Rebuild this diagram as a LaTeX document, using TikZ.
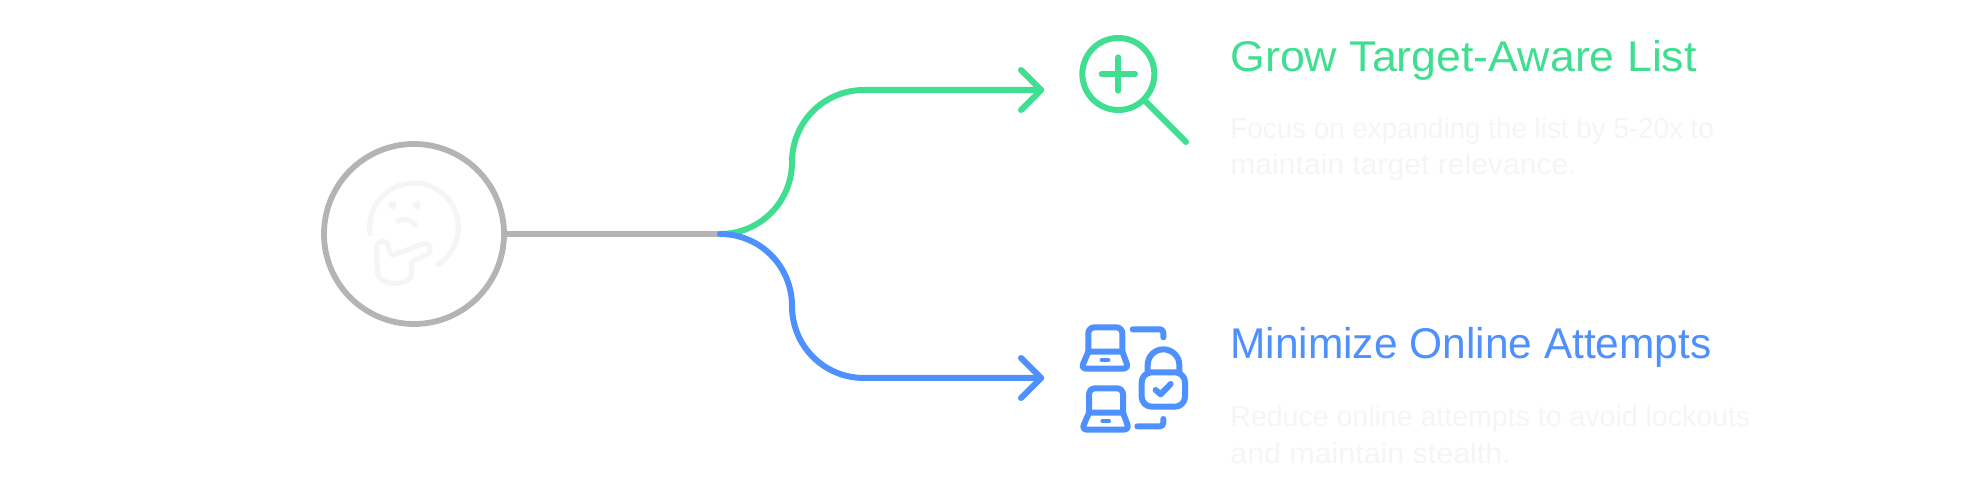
\documentclass[tikz,border=0pt]{standalone}
\usepackage{fontspec}
\setmainfont{Liberation Sans}
\definecolor{cgreen}{HTML}{40DE90}
\definecolor{cblue}{HTML}{4D90FE}
\definecolor{cgrey}{HTML}{B4B4B4}
\definecolor{cpale}{HTML}{F4F5F6}
\tikzset{
  px/.style={x=0.5pt,y=-0.5pt},
  conn/.style={line width=3pt,line cap=round,line join=round},
  icon/.style={line width=3pt,line cap=round,line join=round},
  faint/.style={line width=2.6pt,line cap=round,line join=round,draw=cpale},
  ttl/.style={anchor=base west,inner sep=0pt,font=\fontsize{21.5pt}{24pt}\selectfont},
  dsc/.style={anchor=base west,inner sep=0pt,text=cpale,font=\fontsize{14.4pt}{18pt}\selectfont},
  hub/.style={circle,draw=cgrey,line width=2.9pt,minimum size=90pt,inner sep=0pt},
  zoomA/.style={shift={(1000,20)},scale=0.33333},
  zoomB/.style={shift={(1000,310)},scale=0.33333},
  zoomC/.style={shift={(300,120)},scale=0.33333}
}
\newcommand{\laptopicon}[2]{%
  \draw[icon,draw=cblue,rounded corners=3pt,shift={(#1,#2)}] (265,125) -- (265,52) -- (367,52) -- (367,125);
  \draw[icon,draw=cblue,shift={(#1,#2)}] (265,125) -- (367,125) -- (380,160) .. controls (384,170) and (378,176) .. (368,176)
      -- (260,176) .. controls (250,176) and (245,170) .. (250,160) -- cycle;
  \draw[line width=2.4pt,line cap=round,draw=cblue,shift={(#1,#2)}] (306,150) -- (324,150);
}
\begin{document}
\begin{tikzpicture}[px]
\useasboundingbox (0,0) rectangle (1962,485);
% hub
\node[hub] (hub) at (414,234) {};
\coordinate (fork) at (720,234);
\coordinate (gend) at (1041,90);
\coordinate (bend) at (1041,378);
\coordinate (gu) at (1021,70);
\coordinate (gd) at (1021,110);
\coordinate (bu) at (1021,358);
\coordinate (bd) at (1021,398);
\draw[conn,draw=cgrey,line cap=butt] (hub.east) -- (fork);
\draw[conn,draw=cgreen] (fork) .. controls (760,234) and (792,202) .. (792,162)
  .. controls (792,122) and (824,90) .. (864,90) -- (gend);
\draw[conn,draw=cgreen] (gu) -- (gend) -- (gd);
\draw[conn,draw=cblue] (fork) .. controls (760,234) and (792,266) .. (792,306)
  .. controls (792,346) and (824,378) .. (864,378) -- (bend);
\draw[conn,draw=cblue] (bu) -- (bend) -- (bd);
% thinking face
\begin{scope}[zoomC]
\draw[faint] (210.3,340.5) .. controls (199.1,260.5) and (261.2,189) .. (342,189)
  .. controls (415.5,189) and (475,248.5) .. (475,322)
  .. controls (475,367.2) and (452.3,409) .. (414.3,433.5);
\fill[cpale] (277,255) circle[radius=13];
\fill[cpale] (350,255) circle[radius=13];
\draw[faint] (293,303) .. controls (310,292) and (330,298) .. (347,315);
\draw[faint] (280,405) -- (368,372) .. controls (392,365) and (400,395) .. (378,405) -- (335,425)
  -- (335,455) .. controls (335,480) and (315,490) .. (285,490)
  .. controls (250,490) and (232,475) .. (232,450) -- (230,385)
  .. controls (230,358) and (262,358) .. (265,380) .. controls (268,395) and (272,405) .. (280,405) -- cycle;
\end{scope}
% magnifier
\begin{scope}[zoomA]
\draw[icon,draw=cgreen] (355,162) circle[radius=108];
\draw[icon,draw=cgreen] (305,162) -- (405,162);
\draw[icon,draw=cgreen] (355,112) -- (355,212);
\draw[icon,draw=cgreen] (437,245) -- (558,366);
\end{scope}
% laptops and lock
\begin{scope}[zoomB]
\laptopicon{0}{0}
\laptopicon{2}{183}
\draw[icon,draw=cblue,rounded corners=1.7pt] (398,58) -- (490,58) -- (490,82);
\draw[icon,draw=cblue,rounded corners=1.7pt] (412,349) -- (490,349) -- (490,327);
\draw[icon,draw=cblue,rounded corners=5pt] (425,187) rectangle (555,290);
\draw[icon,draw=cblue] (443,187) -- (443,165) .. controls (443,139) and (464,118) .. (490,118)
  .. controls (516,118) and (538,139) .. (538,165) -- (538,187);
\draw[icon,draw=cblue] (467,240) -- (482,253) -- (512,222);
\end{scope}
% texts
\node[ttl,text=cgreen] (t1) at (1230,72) {\scalebox{1.04}[1]{Grow Target-Aware List}};
\node[dsc] (d1a) at (1230,139) {\scalebox{.965}[1]{Focus on expanding the list by 5-20x to}};
\node[dsc] (d1b) at (1230,175) {\scalebox{1.045}[1]{maintain target relevance.}};
\node[ttl,text=cblue] (t2) at (1230,359) {\scalebox{.987}[1]{Minimize Online Attempts}};
\node[dsc] (d2a) at (1230,427) {\scalebox{.99}[1]{Reduce online attempts to avoid lockouts}};
\node[dsc] (d2b) at (1230,463) {\scalebox{1.055}[1]{and maintain stealth.}};
\end{tikzpicture}
\end{document}
